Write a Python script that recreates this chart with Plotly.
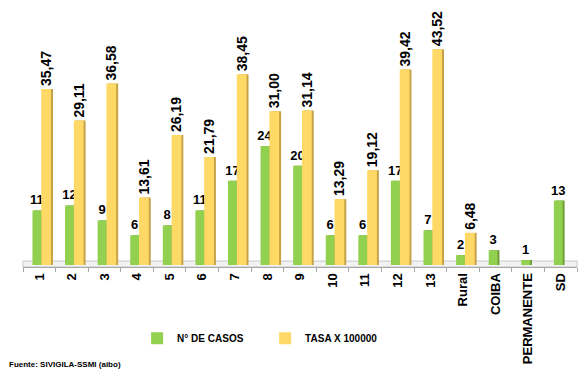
import plotly.graph_objects as go

categorias = ["1", "2", "3", "4", "5", "6", "7", "8", "9", "10", "11", "12", "13",
              "Rural", "COIBA", "PERMANENTE", "SD"]
casos = [11, 12, 9, 6, 8, 11, 17, 24, 20, 6, 6, 17, 7, 2, 3, 1, 13]
tasa = [35.47, 29.11, 36.58, 13.61, 26.19, 21.79, 38.45, 31.00, 31.14, 13.29,
        19.12, 39.42, 43.52, 6.48, None, None, None]

VERDE = "#92D050"
VERDE_LADO = "#6F9E38"
AMARILLO = "#FFD966"
AMARILLO_LADO = "#C4A245"
fuente = dict(family="Liberation Sans", color="black")

fig = go.Figure()

# lado oscuro de las barras (efecto 3D)
fig.add_trace(go.Bar(x=categorias, y=casos, offset=-0.15, width=0.27,
                     marker=dict(color=VERDE_LADO, line=dict(width=0)),
                     showlegend=False, hoverinfo="skip"))
fig.add_trace(go.Bar(x=categorias, y=tasa, offset=0.12, width=0.3,
                     marker=dict(color=AMARILLO_LADO, line=dict(width=0)),
                     showlegend=False, hoverinfo="skip"))

fig.add_trace(go.Bar(
    x=categorias, y=casos, name="N° DE CASOS", offset=-0.21, width=0.27,
    marker=dict(color=VERDE, line=dict(width=0)),
    texttemplate="%{y}", textposition="outside", textangle=0,
    constraintext="none", cliponaxis=False,
    textfont=dict(size=13, family="Liberation Sans", color="black", weight="bold"),
))
fig.add_trace(go.Bar(
    x=categorias, y=tasa, name="TASA X 100000", offset=0.06, width=0.3,
    marker=dict(color=AMARILLO, line=dict(width=0)),
    texttemplate="%{y:.2f}", textposition="outside", textangle=-90,
    constraintext="none", cliponaxis=False,
    textfont=dict(size=14, family="Liberation Sans", color="black", weight="bold"),
))

fig.update_layout(
    width=584, height=369,
    barmode="overlay",
    separators=",.",
    paper_bgcolor="white", plot_bgcolor="white",
    margin=dict(l=23, r=7, t=17, b=102, autoexpand=False),
    font=fuente,
    legend=dict(orientation="h", x=0.206, xanchor="left", y=-0.285, yanchor="middle",
                font=dict(size=10, family="Liberation Sans", weight="bold"),
                itemwidth=30, entrywidth=83, traceorder="normal"),
    annotations=[dict(text="<b>Fuente: SIVIGILA-SSMI (aibo)</b>", xref="paper", yref="paper",
                      x=-0.029, y=-0.39, xanchor="left", yanchor="middle", showarrow=False,
                      font=dict(size=8, family="Liberation Sans"))],
    # piso gris del grafico 3D
    shapes=[dict(type="rect", xref="paper", yref="y", x0=0, x1=1, y0=-0.4, y1=0.8,
                 fillcolor="#F2F2F2", line=dict(color="#C8C8C8", width=1), layer="below")],
)
fig.update_xaxes(showline=True, linecolor="#A6A6A6", linewidth=1,
                 ticks="outside", tickson="boundaries", ticklen=4, tickcolor="#A6A6A6",
                 tickangle=-90, tickfont=dict(size=13, family="Liberation Sans", weight="bold"),
                 showgrid=False)
fig.update_yaxes(range=[-0.4, 50], visible=False, showgrid=False)

# quitar el margen del body para que la figura ocupe la ventana
fig.write_html("out.html", config={"displayModeBar": False},
               post_script="document.body.style.margin='0';")
